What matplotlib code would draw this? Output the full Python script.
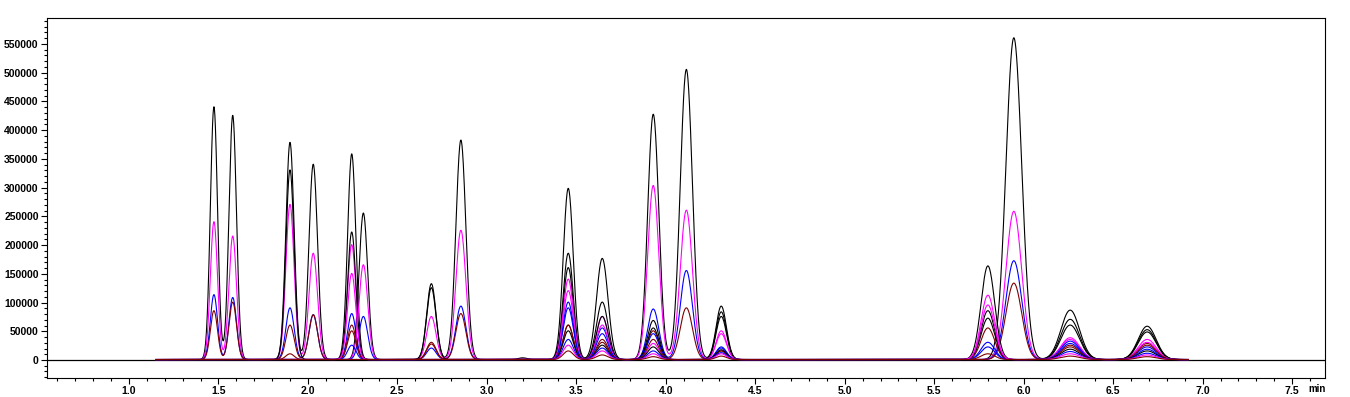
import numpy as np
import matplotlib
matplotlib.use("Agg")
import matplotlib.pyplot as plt
from matplotlib.ticker import MultipleLocator, FormatStrFormatter

plt.rcParams["font.family"] = ["Liberation Sans", "DejaVu Sans"]

# retention times (min) and peak widths (sigma, min) of the compounds
rt = [1.475, 1.58, 1.90, 2.03, 2.245, 2.31, 2.69, 2.855, 3.20,
      3.455, 3.645, 3.93, 4.115, 4.31, 5.80, 5.945, 6.26, 6.69]
sigma = [0.020, 0.021, 0.023, 0.024, 0.023, 0.024, 0.026, 0.028, 0.025,
         0.028, 0.032, 0.031, 0.034, 0.029, 0.038, 0.044, 0.052, 0.050]

# peak heights per trace, one value per compound
trace_colors = ["black", "magenta", "blue", "#800000",
                "black", "black", "magenta", "blue", "#800000",
                "black", "blue", "magenta", "#800000"]
heights = [
    [440000, 425000, 378000, 340000, 358000, 0, 132000, 382000, 3000,
     298000, 176000, 427000, 505000, 93000, 0, 560000, 86000, 58000],
    [240000, 215000, 270000, 185000, 200000, 0, 75000, 225000, 0,
     120000, 75000, 303000, 260000, 50000, 0, 258000, 35000, 35000],
    [113000, 108000, 90000, 78000, 80000, 0, 20000, 93000, 0,
     100000, 55000, 88000, 155000, 22000, 0, 172000, 32000, 22000],
    [85000, 100000, 60000, 78000, 60000, 0, 30000, 80000, 0,
     60000, 35000, 50000, 90000, 15000, 0, 133000, 25000, 28000],
    [0, 0, 330000, 0, 222000, 0, 125000, 0, 0,
     185000, 100000, 68000, 0, 83000, 163000, 0, 70000, 52000],
    [0, 0, 0, 0, 0, 255000, 0, 0, 0,
     160000, 75000, 55000, 0, 75000, 85000, 0, 60000, 48000],
    [0, 0, 0, 0, 0, 165000, 0, 0, 0,
     140000, 60000, 28000, 0, 45000, 112000, 0, 38000, 30000],
    [0, 0, 0, 0, 0, 75000, 0, 0, 0,
     90000, 45000, 45000, 0, 20000, 30000, 0, 28000, 18000],
    [0, 0, 10000, 0, 50000, 0, 27000, 0, 0,
     60000, 30000, 35000, 0, 15000, 55000, 0, 22000, 25000],
    [0, 0, 0, 0, 0, 0, 0, 0, 0,
     50000, 25000, 22000, 0, 17000, 72000, 0, 18000, 15000],
    [0, 0, 0, 0, 25000, 0, 0, 0, 0,
     35000, 20000, 15000, 0, 12000, 22000, 0, 14000, 11000],
    [0, 0, 0, 0, 150000, 0, 0, 0, 0,
     25000, 15000, 10000, 0, 10000, 95000, 0, 10000, 8000],
    [0, 0, 0, 0, 0, 0, 0, 0, 0,
     15000, 8000, 5000, 0, 6000, 10000, 0, 6000, 5000],
]

t = np.linspace(1.15, 6.92, 4000)

fig = plt.figure(figsize=(13.5, 3.97), dpi=100)
ax = fig.add_axes([0.0348, 0.0479, 0.9467, 0.9068])

ax.axhline(0, color="black", lw=0.9, zorder=1)
for color, h in zip(trace_colors, heights):
    y = np.zeros_like(t) + 800
    for r, s, a in zip(rt, sigma, h):
        if a:
            y += a * np.exp(-0.5 * ((t - r) / s) ** 2)
    ax.plot(t, y, color=color, lw=0.8, zorder=2)

ax.set_xlim(0.542, 7.684)
ax.set_ylim(-31300, 595250)
ax.xaxis.set_major_locator(MultipleLocator(0.5))
ax.xaxis.set_minor_locator(MultipleLocator(0.1))
ax.yaxis.set_major_locator(MultipleLocator(50000))
ax.yaxis.set_minor_locator(MultipleLocator(10000))
ax.xaxis.set_major_formatter(FormatStrFormatter("%.1f"))
ax.tick_params(axis="both", which="major", length=4, width=0.8, labelsize=7.5, pad=2)
ax.tick_params(axis="both", which="minor", length=2.5, width=0.8)
for lab in ax.get_xticklabels() + ax.get_yticklabels():
    lab.set_fontweight("bold")
for sp in ax.spines.values():
    sp.set_linewidth(0.8)

ax.text(7.59, -0.031, "min", transform=ax.get_xaxis_transform(), fontsize=7,
        fontweight="bold", ha="left", va="center")

fig.savefig("out.png", dpi=100)
